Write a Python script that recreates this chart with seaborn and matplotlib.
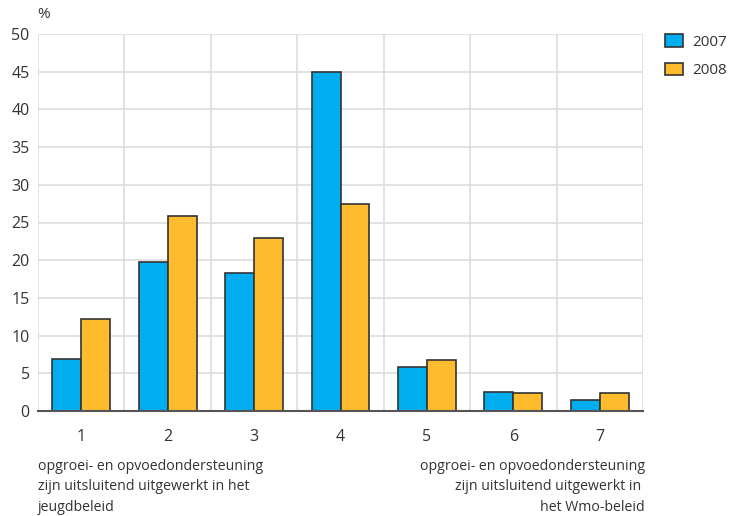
import pandas as pd
import seaborn as sns
import matplotlib.pyplot as plt
from matplotlib.ticker import MultipleLocator, FixedLocator


categories = ["1", "2", "3", "4", "5", "6", "7"]
values_2007 = [6.9, 19.8, 18.3, 45.0, 5.9, 2.5, 1.4]
values_2008 = [12.2, 25.9, 22.9, 27.4, 6.8, 2.4, 2.4]
years = ["2007", "2008"]
colors = ["#00adef", "#fdbb2d"]

df = pd.DataFrame({
    "categorie": categories * 2,
    "jaar": [years[0]] * len(categories) + [years[1]] * len(categories),
    "waarde": values_2007 + values_2008,
})

sns.set_style("white")
plt.rcParams["font.family"] = ["Open Sans", "DejaVu Sans"]

fig = plt.figure(figsize=(7.36, 5.16), dpi=100)
ax = fig.add_axes([38 / 736, 105 / 516, 605 / 736, 377 / 516])

sns.barplot(
    data=df, x="categorie", y="waarde", hue="jaar",
    palette=colors, saturation=1, width=0.67, gap=0,
    edgecolor="#333333", linewidth=1.2, ax=ax, legend=True,
)

ax.set_xlim(-0.5, 6.5)
ax.set_ylim(0, 50)
ax.yaxis.set_major_locator(MultipleLocator(5))
ax.xaxis.set_minor_locator(FixedLocator([i + 0.5 for i in range(-1, 7)]))
ax.grid(True, axis="y", which="major", color="#dddddd", linewidth=1.2)
ax.grid(True, axis="x", which="minor", color="#dddddd", linewidth=1.2)
ax.grid(False, axis="x", which="major")
ax.set_axisbelow(True)

for side in ["top", "left", "right"]:
    ax.spines[side].set_visible(False)
ax.spines["bottom"].set_color("#555555")
ax.spines["bottom"].set_linewidth(1.5)

ax.tick_params(axis="x", which="major", direction="out", length=7, width=1.2,
               color="#555555", labelsize=11.5, labelcolor="#333333", pad=6)
ax.tick_params(axis="x", which="minor", length=0)
ax.tick_params(axis="y", length=0, labelsize=11.5, labelcolor="#333333", pad=6)
ax.set_xlabel("")
ax.set_ylabel("")

fig.text(37 / 736, 1 - 15 / 516, "%", fontsize=11, color="#333333", va="center")

handles, labels = ax.get_legend_handles_labels()
ax.legend(handles, labels, loc="upper left", bbox_to_anchor=(1.036, 1.0),
          frameon=False, fontsize=11, handlelength=1.2, handleheight=0.9,
          labelspacing=0.85, handletextpad=0.6, borderpad=0, borderaxespad=0,
          labelcolor="#333333")

left_note = "opgroei- en opvoedondersteuning\nzijn uitsluitend uitgewerkt in het\njeugdbeleid"
right_note = "opgroei- en opvoedondersteuning\nzijn uitsluitend uitgewerkt in \nhet Wmo-beleid"
fig.text(38 / 736, 1 - 459 / 516, left_note, fontsize=10.2, color="#333333",
         va="top", ha="left", linespacing=1.5)
fig.text(645 / 736, 1 - 459 / 516, right_note, fontsize=10.2, color="#333333",
         va="top", ha="right", multialignment="right", linespacing=1.5)

fig.savefig("out.png", dpi=100)
plt.close(fig)
